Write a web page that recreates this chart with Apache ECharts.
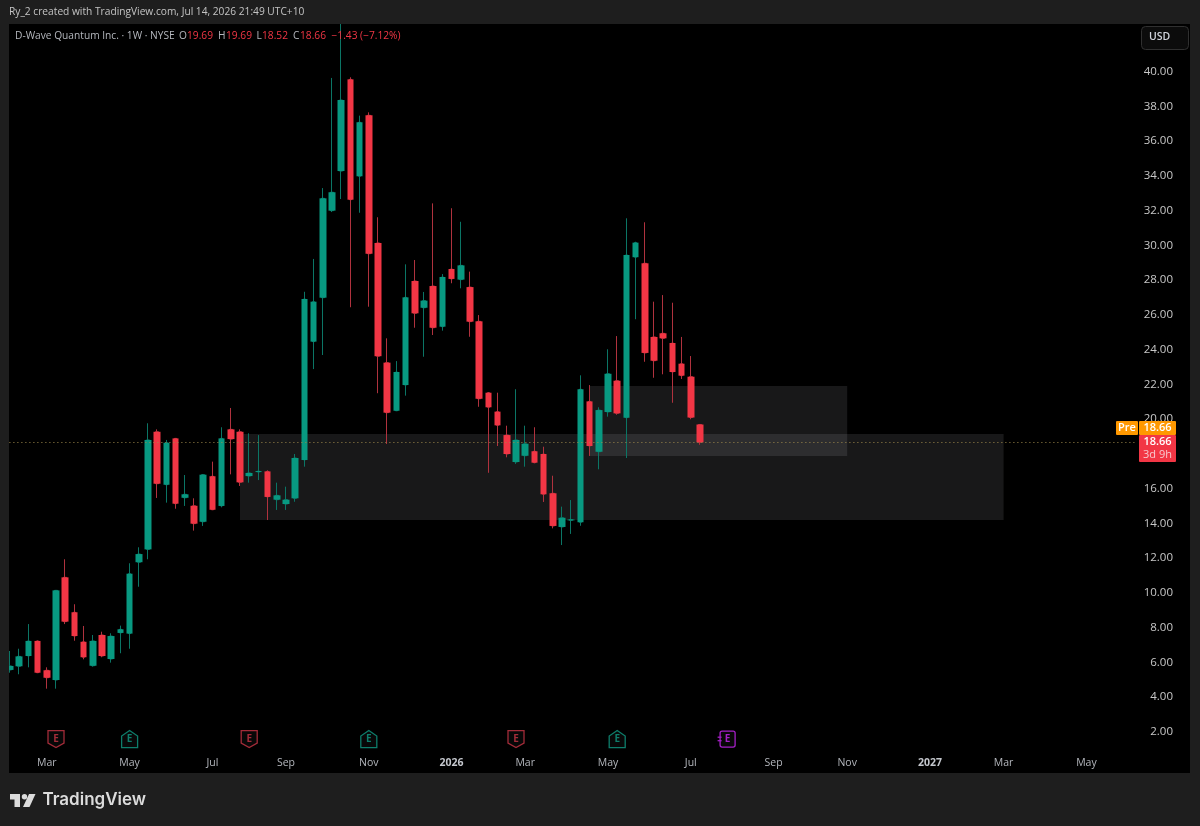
<!DOCTYPE html>
<html>
<head>
<meta charset="utf-8">
<title>D-Wave Quantum Inc. weekly</title>
<script src="https://cdn.jsdelivr.net/npm/echarts@6/dist/echarts.min.js"></script>
<style>
html,body{margin:0;padding:0;background:#1e1e1e}
#chart{width:1200px;height:826px}
</style>
</head>
<body>
<div id="chart"></div>
<script>
// Weekly candles, one value per week starting with the week of 3 Feb 2025
var opens = [5.56,5.77,6.36,7.23,5.54,4.98,10.89,8.88,7.18,5.80,7.57,6.19,7.69,7.65,11.76,12.50,19.27,16.22,18.89,15.47,15.01,14.09,16.71,15.00,19.41,19.27,16.72,16.95,16.99,15.36,15.11,15.44,17.65,24.46,26.99,32.00,34.28,39.56,33.98,37.49,30.14,23.25,20.48,21.96,27.95,26.41,27.66,25.32,28.64,28.03,27.60,25.63,21.52,20.43,19.08,17.53,17.89,18.15,17.99,15.73,13.79,14.17,14.06,21.02,18.12,20.41,22.21,20.08,29.32,28.97,24.73,24.94,24.38,23.19,22.44,19.69];
var closes = [5.79,6.34,7.23,5.40,5.11,10.14,8.34,7.51,6.29,7.23,6.36,7.51,7.90,11.10,12.23,18.80,16.28,18.64,15.13,15.67,13.98,16.80,14.78,18.89,18.85,16.36,16.90,17.01,15.52,15.61,15.36,17.76,26.91,26.76,32.71,33.06,38.37,32.63,37.09,29.52,23.62,20.37,22.71,27.01,26.09,26.82,25.26,28.18,28.07,28.85,25.61,21.17,20.68,19.64,17.99,18.80,18.58,17.49,15.67,13.85,14.32,14.22,21.72,18.45,20.52,22.61,20.33,29.45,30.16,23.81,23.36,24.65,22.71,22.50,20.09,18.66];
var highs = [6.65,6.78,8.20,7.25,5.71,10.16,11.93,9.34,8.09,7.57,7.76,7.67,8.11,11.70,12.62,19.76,19.41,18.80,18.89,16.78,15.44,16.84,17.55,19.53,20.64,19.41,19.18,19.08,17.05,16.34,16.11,17.99,27.33,29.22,33.30,39.64,43.50,39.68,37.47,37.66,31.62,24.65,23.34,28.91,29.16,27.32,32.42,28.35,32.14,31.36,28.49,25.99,21.55,21.52,19.62,21.72,19.62,19.53,18.41,16.74,14.96,15.34,22.52,21.96,20.68,24.02,24.78,31.56,30.21,31.33,26.76,27.14,26.70,24.73,23.63,19.69];
var lows = [5.40,5.31,5.71,5.38,4.48,4.48,8.20,7.24,6.17,5.75,6.29,5.98,6.52,6.78,10.35,11.93,15.46,15.19,14.84,15.00,13.58,13.85,14.77,14.92,16.82,16.15,16.34,16.49,14.19,14.77,14.77,15.24,17.26,22.88,23.69,31.92,32.67,26.44,31.88,26.47,21.49,18.57,20.47,21.35,25.26,23.59,24.84,25.09,27.82,27.53,24.74,20.71,16.91,18.45,17.80,17.42,17.26,17.46,15.23,13.71,12.75,13.39,13.86,17.88,17.11,20.14,20.25,17.76,25.75,23.30,22.38,22.58,20.94,22.31,19.99,18.52];

// Time scale: the sessions plus empty weeks to the right of the last bar
var weekCount = 123;
var firstWeek = Date.UTC(2025, 1, 3);
var weeks = [];
for (var w = 0; w < weekCount; w++) {
  weeks.push(new Date(firstWeek + w * 7 * 864e5).toISOString().slice(0, 10));
}

// Month labels on the time scale
var tickWeeks = ['2025-03-03','2025-05-05','2025-07-07','2025-09-01','2025-11-03','2026-01-05','2026-03-02','2026-05-04','2026-07-06','2026-09-07','2026-11-02','2027-01-04','2027-03-01','2027-05-03'];
var tickTexts = ['Mar','May','Jul','Sep','Nov','2026','Mar','May','Jul','Sep','Nov','2027','Mar','May'];

// Earnings flags: week and outcome
var earningsWeeks = ['2025-03-10','2025-05-05','2025-08-04','2025-11-03','2026-02-23','2026-05-11','2026-08-03'];
var earningsKinds = ['miss','beat','miss','beat','miss','beat','next'];

// Shaded price zones: first week, last week, upper price, lower price
var zoneStarts = ['2025-07-28','2026-04-20'];
var zoneEnds = ['2027-03-01','2026-11-02'];
var zoneTops = [19.14,21.91];
var zoneBottoms = [14.19,17.88];

var lastPrice = 18.66;
var priceMax = 42.746;
var flagPrice = 1.58;

var UP = '#089981', DOWN = '#f23645';
var FONT = '"Open Sans", sans-serif';
var LABEL = '#b4b7bd';
var TEXT = '10.2px ' + FONT;

var candles = opens.map(function (o, i) { return [o, closes[i], lows[i], highs[i]]; });
// Bodies are painted over the full candles so wicks can keep a softer tone
var bodies = opens.map(function (o, i) {
  return [o, closes[i], Math.min(o, closes[i]), Math.max(o, closes[i])];
});

var flagColors = { miss: '#a32c39', beat: '#0e7d6b', next: '#a41fc6' };
var flagData = earningsWeeks.map(function (d, i) { return [weeks.indexOf(d), flagPrice, i]; });

function renderFlag(params, api) {
  var p = api.coord([api.value(0), api.value(1)]);
  var kind = earningsKinds[api.value(2)];
  var c = flagColors[kind];
  var outline;
  var children = [];
  var stroke = { fill: '#080808', stroke: c, lineWidth: 1.3 };
  if (kind === 'miss') {
    outline = [[-8, -8.5], [8, -8.5], [8, 4], [0, 8.5], [-8, 4]];
  } else if (kind === 'beat') {
    outline = [[-8, 8.5], [8, 8.5], [8, -3], [0, -8.5], [-8, -3]];
  }
  if (outline) {
    children.push({ type: 'polygon', shape: { points: outline }, style: stroke });
  } else {
    children.push({ type: 'rect', shape: { x: -7.5, y: -8, width: 15, height: 16, r: 2 }, style: stroke });
    children.push({ type: 'rect', shape: { x: -10, y: -2.5, width: 4, height: 1.3 }, style: { fill: c } });
    children.push({ type: 'rect', shape: { x: -10, y: 1, width: 4, height: 1.3 }, style: { fill: c } });
  }
  children.push({
    type: 'text',
    style: { text: 'E', x: 0, y: 0.5, fill: c, font: 'bold 10px ' + FONT, textAlign: 'center', textVerticalAlign: 'middle' }
  });
  return { type: 'group', x: p[0], y: p[1], children: children };
}

function bar(x, y, width, height, fill) {
  return { type: 'rect', z: 50, silent: true, shape: { x: x, y: y, width: width, height: height }, style: { fill: fill } };
}

function caption(x, y, text, fill) {
  return { type: 'text', z: 60, silent: true, x: x, y: y, style: { text: text, fill: fill, font: TEXT } };
}

var FRAME = '#1e1e1e';
var overlays = [
  { type: 'rect', z: -5, silent: true, shape: { x: 9, y: 24, width: 1181, height: 749 }, style: { fill: '#000000' } },
  bar(0, 0, 1200, 24, FRAME),
  bar(0, 773, 1200, 53, FRAME),
  bar(0, 0, 9, 826, FRAME),
  bar(1190, 0, 10, 826, FRAME),
  // Header line above the pane
  caption(9, 7, 'Ry_2 created with TradingView.com, Jul 14, 2026 21:49 UTC+10', '#c4c4c4'),
  // Symbol line inside the pane
  caption(15, 31, 'D-Wave Quantum Inc. · 1W · NYSE', LABEL),
  caption(179, 31, 'O', LABEL),
  caption(187, 31, '19.69', DOWN),
  caption(218, 31, 'H', LABEL),
  caption(226, 31, '19.69', DOWN),
  caption(256.5, 31, 'L', LABEL),
  caption(262, 31, '18.52', DOWN),
  caption(293, 31, 'C', LABEL),
  caption(300, 31, '18.66', DOWN),
  caption(331.5, 31, '−1.43 (−7.12%)', DOWN),
  // Currency button
  { type: 'rect', z: 60, silent: true, shape: { x: 1141.5, y: 26.5, width: 47, height: 23, r: 4 }, style: { fill: '#0c0c0c', stroke: '#303030', lineWidth: 1 } },
  { type: 'text', z: 61, silent: true, x: 1149, y: 32, style: { text: 'USD', fill: '#d1d4dc', font: '600 10.5px ' + FONT } },
  // Last price tags on the price scale
  { type: 'rect', z: 60, silent: true, shape: { x: 1116, y: 421, width: 22, height: 14, r: 1 }, style: { fill: '#ff9800' } },
  { type: 'text', z: 61, silent: true, x: 1127, y: 428, style: { text: 'Pre', fill: '#ffffff', font: '600 11px ' + FONT, textAlign: 'center', textVerticalAlign: 'middle' } },
  { type: 'rect', z: 60, silent: true, shape: { x: 1139, y: 421, width: 37, height: 14, r: 1 }, style: { fill: '#ff9800' } },
  { type: 'text', z: 61, silent: true, x: 1157.5, y: 428, style: { text: '18.66', fill: '#ffffff', font: '600 11px ' + FONT, textAlign: 'center', textVerticalAlign: 'middle' } },
  { type: 'rect', z: 60, silent: true, shape: { x: 1139, y: 435, width: 37, height: 27, r: 1 }, style: { fill: DOWN } },
  { type: 'text', z: 61, silent: true, x: 1157.5, y: 442, style: { text: '18.66', fill: '#ffffff', font: '600 11px ' + FONT, textAlign: 'center', textVerticalAlign: 'middle' } },
  { type: 'text', z: 61, silent: true, x: 1157.5, y: 455, style: { text: '3d 9h', fill: '#f7c9ce', font: '11px ' + FONT, textAlign: 'center', textVerticalAlign: 'middle' } },
  // Brand mark in the bottom frame
  { type: 'polygon', z: 60, silent: true, shape: { points: [[10, 794], [20, 794], [20, 807], [14.5, 807], [14.5, 799.5], [10, 799.5]] }, style: { fill: '#dcdcdc' } },
  { type: 'circle', z: 60, silent: true, shape: { cx: 24.5, cy: 796.8, r: 2.7 }, style: { fill: '#dcdcdc' } },
  { type: 'polygon', z: 60, silent: true, shape: { points: [[29, 794], [35.5, 794], [29.5, 807], [23, 807]] }, style: { fill: '#dcdcdc' } },
  { type: 'text', z: 60, silent: true, x: 42.5, y: 791, style: { text: 'TradingView', fill: '#dcdcdc', font: '600 17px Inter, sans-serif' } }
];

var zoneStyle = { color: 'rgba(209,212,220,0.115)', borderWidth: 0 };

var option = {
  animation: false,
  backgroundColor: FRAME,
  grid: { left: 5.4, top: 24, width: 1131.6, height: 742.5, containLabel: false },
  xAxis: {
    type: 'category',
    data: weeks,
    boundaryGap: true,
    axisLine: { show: false },
    axisTick: { show: false },
    splitLine: { show: false },
    axisLabel: {
      inside: true,
      margin: -2,
      color: LABEL,
      fontFamily: FONT,
      fontSize: 10.5,
      interval: function (i, value) { return tickWeeks.indexOf(value) >= 0; },
      formatter: function (value) {
        var t = tickTexts[tickWeeks.indexOf(value)];
        return /^\d{4}$/.test(t) ? '{y|' + t + '}' : t;
      },
      rich: { y: { fontWeight: 700, fontSize: 10.5, color: '#c4c7cd', fontFamily: FONT } }
    }
  },
  yAxis: {
    type: 'value',
    position: 'right',
    min: 0,
    max: priceMax,
    interval: 2,
    axisLine: { show: false },
    axisTick: { show: false },
    splitLine: { show: false },
    axisLabel: {
      showMinLabel: false,
      showMaxLabel: false,
      align: 'right',
      margin: 36,
      color: '#c8c8c8',
      fontFamily: FONT,
      fontSize: 11.5,
      formatter: function (v) { return v.toFixed(2); }
    }
  },
  graphic: { elements: overlays },
  series: [
    {
      type: 'candlestick',
      name: 'Wicks',
      data: candles,
      barWidth: 3,
      clip: true,
      itemStyle: {
        color: '#0b7565',
        color0: '#b0323e',
        borderColor: '#0b7565',
        borderColor0: '#b0323e',
        borderWidth: 1
      },
      markArea: {
        silent: true,
        itemStyle: zoneStyle,
        data: zoneStarts.map(function (s, i) {
          return [{ coord: [s, zoneTops[i]] }, { coord: [zoneEnds[i], zoneBottoms[i]] }];
        })
      },
      markLine: {
        silent: true,
        symbol: 'none',
        label: { show: false },
        lineStyle: { color: '#a08a4c', type: [1, 3], width: 1 },
        data: [{ yAxis: lastPrice }]
      }
    },
    {
      type: 'candlestick',
      name: 'Bodies',
      data: bodies,
      barWidth: 7,
      clip: true,
      itemStyle: {
        color: UP,
        color0: DOWN,
        borderColor: UP,
        borderColor0: DOWN,
        borderWidth: 0
      }
    },
    {
      type: 'custom',
      data: flagData,
      clip: false,
      silent: true,
      renderItem: renderFlag,
      encode: { x: 0, y: 1 }
    }
  ]
};

var chart = echarts.init(document.getElementById('chart'), null, { renderer: 'canvas' });
chart.setOption(option);
</script>
</body>
</html>
